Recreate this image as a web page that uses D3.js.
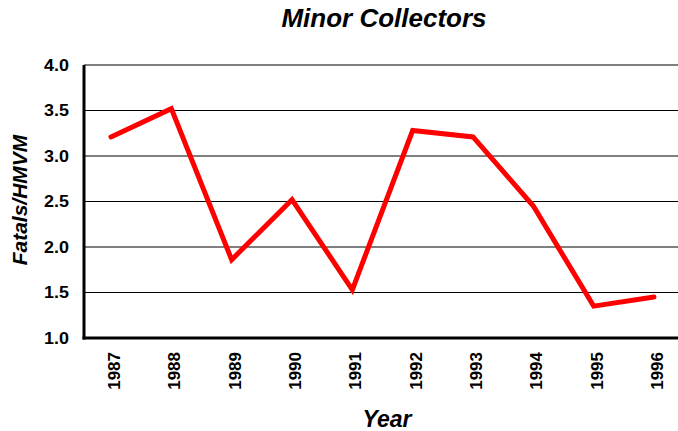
<!DOCTYPE html>
<html>
<head>
<meta charset="utf-8">
<script src="https://cdn.jsdelivr.net/npm/d3@7"></script>
<style>
  body { margin: 0; background: #fff; }
  text { font-family: "Liberation Sans", Arial, sans-serif; font-weight: bold; fill: #000; }
</style>
</head>
<body>
<div id="vis"></div>
<script>
var years = ['1987', '1988', '1989', '1990', '1991', '1992', '1993', '1994', '1995', '1996'];
var fatals = [3.21, 3.52, 1.86, 2.52, 1.53, 3.28, 3.21, 2.45, 1.35, 1.45];
var yTicks = [1.0, 1.5, 2.0, 2.5, 3.0, 3.5, 4.0];

var width = 678, height = 431;

var svg = d3.select('#vis')
  .append('svg')
  .attr('width', width)
  .attr('height', height);

var plot = { left: 84, right: 685, top: 65, bottom: 338 };

var x_scale = d3.scalePoint()
  .domain(years)
  .range([111, 654]);

var y_scale = d3.scaleLinear()
  .domain([1, 4])
  .range([plot.bottom, plot.top]);

// gridlines
svg.append('g')
  .selectAll('line')
  .data(yTicks)
  .enter()
  .append('line')
  .attr('x1', plot.left)
  .attr('x2', plot.right)
  .attr('y1', function(d) { return y_scale(d); })
  .attr('y2', function(d) { return y_scale(d); })
  .attr('stroke', '#000')
  .attr('stroke-width', 1.2);

// axes lines
svg.append('line')
  .attr('x1', plot.left).attr('x2', plot.left)
  .attr('y1', plot.top).attr('y2', plot.bottom + 1.5)
  .attr('stroke', '#000').attr('stroke-width', 3);
svg.append('line')
  .attr('x1', plot.left - 1.5).attr('x2', plot.right)
  .attr('y1', plot.bottom).attr('y2', plot.bottom)
  .attr('stroke', '#000').attr('stroke-width', 3);

// y tick labels (source text is a bit wider than tall)
svg.append('g')
  .selectAll('text')
  .data(yTicks)
  .enter()
  .append('text')
  .attr('transform', function(d) { return 'translate(69,' + y_scale(d) + ') scale(1.12,1)'; })
  .attr('dy', '0.36em')
  .attr('text-anchor', 'end')
  .style('font-size', '16px')
  .text(function(d) { return d.toFixed(1); });

// x tick labels
svg.append('g')
  .selectAll('text')
  .data(years)
  .enter()
  .append('text')
  .attr('transform', function(d) { return 'translate(' + (x_scale(d) + 3) + ',352) rotate(-90)'; })
  .attr('dy', '0.36em')
  .attr('text-anchor', 'end')
  .style('font-size', '17px')
  .text(function(d) { return d; });

// line
var line = d3.line()
  .x(function(d, i) { return x_scale(years[i]); })
  .y(function(d) { return y_scale(d); });

svg.append('path')
  .datum(fatals)
  .attr('d', line)
  .attr('fill', 'none')
  .attr('stroke', '#ff0000')
  .attr('stroke-width', 5)
  .attr('stroke-linecap', 'round')
  .attr('stroke-linejoin', 'miter');

// titles
svg.append('text')
  .attr('x', 384)
  .attr('y', 27)
  .attr('text-anchor', 'middle')
  .style('font-size', '26px')
  .style('font-style', 'italic')
  .text('Minor Collectors');

svg.append('text')
  .attr('x', 387)
  .attr('y', 427)
  .attr('text-anchor', 'middle')
  .style('font-size', '23px')
  .style('font-style', 'italic')
  .text('Year');

svg.append('text')
  .attr('transform', 'translate(27,200) rotate(-90)')
  .attr('text-anchor', 'middle')
  .style('font-size', '21px')
  .style('font-style', 'italic')
  .text('Fatals/HMVM');
</script>
</body>
</html>
